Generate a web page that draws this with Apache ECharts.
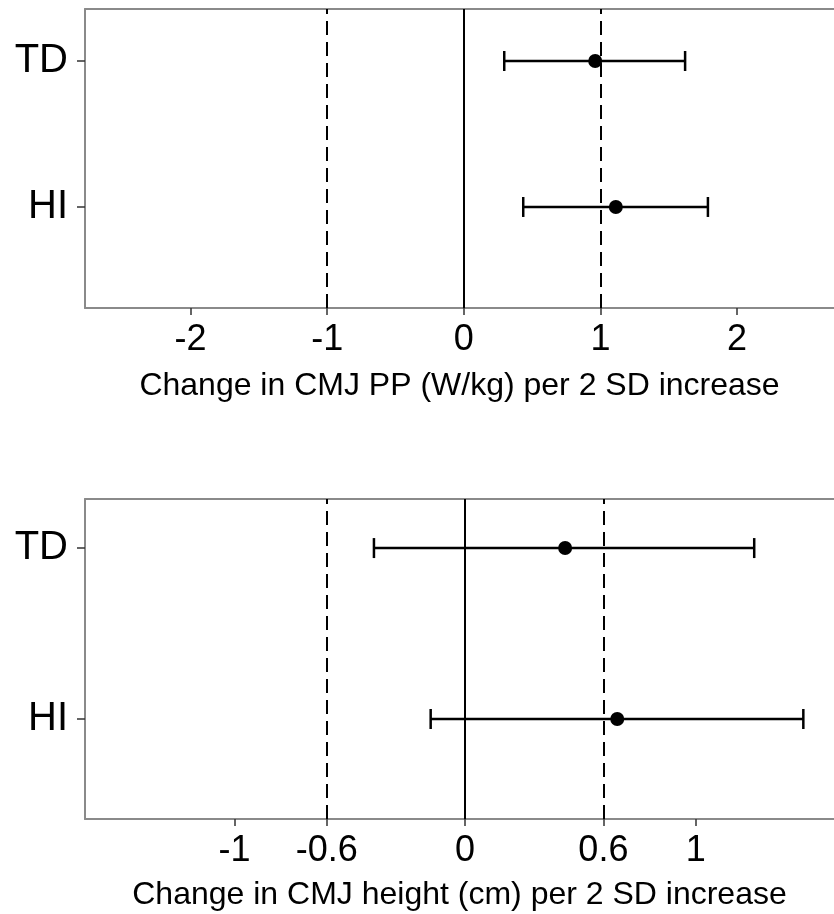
<!DOCTYPE html>
<html>
<head>
<meta charset="utf-8">
<title>CMJ forest plot</title>
<script src="https://cdn.jsdelivr.net/npm/echarts@6/dist/echarts.min.js"></script>
<style>
  html, body { margin: 0; padding: 0; background: #fff; }
  #chart { width: 834px; height: 914px; }
</style>
</head>
<body>
<div id="chart"></div>
<script>
// groups on the y axis (value 1 = HI, value 2 = TD)
const groups = ['HI', 'TD']
const groupPos = [1, 2]

// CMJ peak power (W/kg)
const ppEst = [1.113, 0.962]
const ppLow = [0.435, 0.296]
const ppHigh = [1.787, 1.620]
const ppTicks = [-2, -1, 0, 1, 2]
const ppRefs = [-1, 1]

// CMJ height (cm)
const htEst = [0.660, 0.434]
const htLow = [-0.149, -0.395]
const htHigh = [1.467, 1.254]
const htTicks = [-1, -0.6, 0, 0.6, 1]
const htRefs = [-0.6, 0.6]

const FONT = "'Liberation Sans', Arial, sans-serif"
const BORDER = { show: true, onZero: false, lineStyle: { color: '#8a8a8a', width: 2 } }

const chart = echarts.init(document.getElementById('chart'), null, { renderer: 'canvas' })

// x axis for one panel
const makeXAxis = (idx, min, max, ticks, title, gap) => ({
  type: 'value',
  gridIndex: idx,
  min: min,
  max: max,
  axisLine: BORDER,
  splitLine: { show: false },
  axisTick: { show: true, length: 7, customValues: ticks, lineStyle: { color: '#333', width: 1.5 } },
  axisLabel: {
    customValues: ticks,
    margin: 14,
    fontSize: 36,
    fontFamily: FONT,
    color: '#000',
    formatter: v => String(v)
  },
  name: title,
  nameLocation: 'middle',
  nameGap: gap,
  nameTextStyle: { fontSize: 32, fontFamily: FONT, color: '#000' }
})

// top edge of the panel box
const makeTopAxis = (idx, min, max) => ({
  type: 'value',
  gridIndex: idx,
  position: 'top',
  min: min,
  max: max,
  axisLine: BORDER,
  splitLine: { show: false },
  axisTick: { show: false },
  axisLabel: { show: false }
})

const makeYAxis = (idx, min, max) => ({
  type: 'value',
  gridIndex: idx,
  min: min,
  max: max,
  axisLine: BORDER,
  splitLine: { show: false },
  axisTick: { show: true, length: 8, customValues: groupPos, lineStyle: { color: '#333', width: 1.5 } },
  axisLabel: {
    customValues: groupPos,
    margin: 17,
    fontSize: 40,
    fontFamily: FONT,
    color: '#000',
    formatter: v => groups[groupPos.indexOf(v)] || ''
  }
})

// error bars with caps
const errorBars = (idx, low, high) => ({
  type: 'custom',
  xAxisIndex: idx,
  yAxisIndex: idx,
  z: 3,
  data: low.map((l, i) => [l, high[i], groupPos[i]]),
  renderItem: (params, api) => {
    const y = api.value(2)
    const a = api.coord([api.value(0), y])
    const b = api.coord([api.value(1), y])
    const cap = 10
    const style = { stroke: '#000', lineWidth: 2.5 }
    return {
      type: 'group',
      children: [
        { type: 'line', shape: { x1: a[0], y1: a[1], x2: b[0], y2: b[1] }, style: style },
        { type: 'line', shape: { x1: a[0], y1: a[1] - cap, x2: a[0], y2: a[1] + cap }, style: style },
        { type: 'line', shape: { x1: b[0], y1: b[1] - cap, x2: b[0], y2: b[1] + cap }, style: style }
      ]
    }
  }
})

const points = (idx, est, refs) => ({
  type: 'scatter',
  xAxisIndex: idx,
  yAxisIndex: idx,
  z: 4,
  symbol: 'circle',
  symbolSize: 14,
  itemStyle: { color: '#000', opacity: 1 },
  data: est.map((e, i) => [e, groupPos[i]]),
  markLine: {
    silent: true,
    symbol: 'none',
    label: { show: false },
    z: 1,
    data: [
      { xAxis: 0, lineStyle: { type: 'solid', color: '#000', width: 2 } }
    ].concat(refs.map(r => ({ xAxis: r, lineStyle: { type: [14, 7], color: '#000', width: 2 } })))
  }
})

const option = {
  animation: false,
  backgroundColor: '#fff',
  grid: [
    { left: 85, top: 9, width: 749, height: 299 },
    { left: 85, top: 499, width: 749, height: 320 }
  ],
  xAxis: [
    makeXAxis(0, -2.773, 2.710, ppTicks, 'Change in CMJ PP (W/kg) per 2 SD increase', 62),
    makeXAxis(1, -1.648, 1.600, htTicks, 'Change in CMJ height (cm) per 2 SD increase', 60),
    makeTopAxis(0, -2.773, 2.710),
    makeTopAxis(1, -1.648, 1.600)
  ],
  yAxis: [
    makeYAxis(0, 0.308, 2.356),
    makeYAxis(1, 0.415, 2.287)
  ],
  series: [
    errorBars(0, ppLow, ppHigh),
    points(0, ppEst, ppRefs),
    errorBars(1, htLow, htHigh),
    points(1, htEst, htRefs)
  ]
}

chart.setOption(option)
</script>
</body>
</html>
